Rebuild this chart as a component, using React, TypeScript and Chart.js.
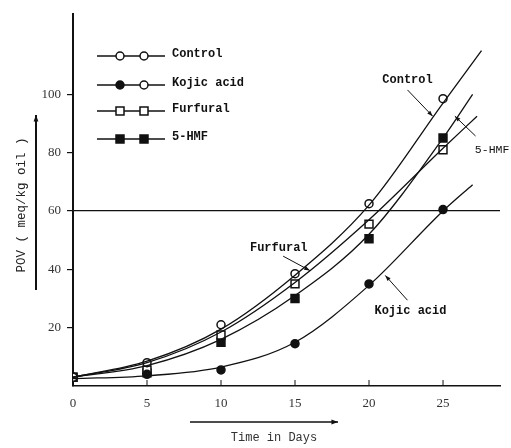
import React, { useEffect, useRef } from 'react';
import { Chart, registerables } from 'chart.js';

Chart.register(...registerables);

// Observation days
const days = [0, 5, 10, 15, 20, 25];
// Measured POV values (meq/kg oil)
const controlObs = [3, 8, 21, 38.5, 62.5, 98.5];
const kojicObs = [3, 4, 5.5, 14.5, 35, 60.5];
const furfuralObs = [3, 5.5, 17.5, 35, 55.5, 81];
const hmfObs = [3, 4.5, 15, 30, 50.5, 85];

// Hand-fitted curves
const controlCurveX = [0, 5, 10, 15, 20, 25, 27.6];
const controlCurveY = [3, 8.5, 19.5, 38, 62, 97, 115];
const kojicCurveX = [0, 5, 10, 15, 20, 25, 27.0];
const kojicCurveY = [2.5, 3.5, 6.5, 15, 34.5, 60, 69];
const furfuralCurveX = [0, 5, 10, 15, 20, 25, 27.3];
const furfuralCurveY = [3, 8, 18.5, 35.5, 57, 81.5, 92.5];
const hmfCurveX = [0, 5, 10, 15, 20, 25, 27.0];
const hmfCurveY = [3, 7, 16, 31, 52, 85, 100];

const xTicks = [0, 5, 10, 15, 20, 25];
const yTicks = [20, 40, 60, 80, 100];
const refLine = 60;

const legendLabels = ['Control', 'Kojic acid', 'Furfural', '5-HMF'];

const INK = '#111';
const MONO = 'Liberation Mono, DejaVu Sans Mono, monospace';
const SERIF = 'Liberation Serif, DejaVu Serif, serif';

function arrow(ctx: CanvasRenderingContext2D, x1: number, y1: number, x2: number, y2: number, head = 6, lw = 1) {
  ctx.save();
  ctx.strokeStyle = INK;
  ctx.fillStyle = INK;
  ctx.lineWidth = lw;
  ctx.beginPath();
  ctx.moveTo(x1, y1);
  ctx.lineTo(x2, y2);
  ctx.stroke();
  const a = Math.atan2(y2 - y1, x2 - x1);
  ctx.beginPath();
  ctx.moveTo(x2, y2);
  ctx.lineTo(x2 - head * Math.cos(a - 0.35), y2 - head * Math.sin(a - 0.35));
  ctx.lineTo(x2 - head * Math.cos(a + 0.35), y2 - head * Math.sin(a + 0.35));
  ctx.closePath();
  ctx.fill();
  ctx.restore();
}

function marker(ctx: CanvasRenderingContext2D, kind: string, filled: boolean, x: number, y: number) {
  ctx.save();
  ctx.strokeStyle = INK;
  ctx.lineWidth = 1.5;
  ctx.fillStyle = filled ? INK : '#fff';
  ctx.beginPath();
  if (kind === 'circle') ctx.arc(x, y, 4, 0, Math.PI * 2);
  else ctx.rect(x - 4, y - 4, 8, 8);
  ctx.fill();
  ctx.stroke();
  ctx.restore();
}

// Annotation labels placed in data coordinates
const annotations = [
  { text: 'Control', tx: 22.6, ty: 105, align: 'center', font: 'bold 12px ', from: [22.6, 101.5], to: [24.3, 92.5] },
  { text: '5-HMF', tx: 27.15, ty: 80.9, align: 'left', font: '11.5px ', from: [27.2, 85.7], to: [25.8, 92.5] },
  { text: 'Furfural', tx: 13.9, ty: 47.4, align: 'center', font: 'bold 12px ', from: [14.2, 44.5], to: [16.0, 39.6] },
  { text: 'Kojic acid', tx: 22.8, ty: 25.6, align: 'center', font: 'bold 12px ', from: [22.6, 29.4], to: [21.1, 37.9] },
];

const decorPlugin = {
  id: 'decor',
  afterDraw(chart: any) {
    const ctx: CanvasRenderingContext2D = chart.ctx;
    const xs = chart.scales.x;
    const ys = chart.scales.y;
    const area = chart.chartArea;
    ctx.save();
    // inward x tick marks
    ctx.strokeStyle = INK;
    ctx.lineWidth = 1;
    xTicks.forEach((v) => {
      if (v === 0) return;
      const px = xs.getPixelForValue(v);
      ctx.beginPath();
      ctx.moveTo(px, area.bottom);
      ctx.lineTo(px, area.bottom - 6);
      ctx.stroke();
    });

    // legend
    const rows = [56, 85, 111, 139];
    const styles: [string, boolean, string, boolean][] = [
      ['circle', false, 'circle', false],
      ['circle', true, 'circle', false],
      ['rect', false, 'rect', false],
      ['rect', true, 'rect', true],
    ];
    legendLabels.forEach((lab, i) => {
      const y = rows[i];
      ctx.strokeStyle = INK;
      ctx.lineWidth = 1.3;
      ctx.beginPath();
      ctx.moveTo(97, y);
      ctx.lineTo(165, y);
      ctx.stroke();
      marker(ctx, styles[i][0], styles[i][1], 120, y);
      marker(ctx, styles[i][2], styles[i][3], 144, y);
      ctx.fillStyle = INK;
      ctx.font = 'bold 12px ' + MONO;
      ctx.textAlign = 'left';
      ctx.textBaseline = 'middle';
      ctx.fillText(lab, 172, y - 2);
    });

    // annotations
    annotations.forEach((a) => {
      ctx.fillStyle = INK;
      ctx.font = a.font + MONO;
      ctx.textAlign = a.align as CanvasTextAlign;
      ctx.textBaseline = 'middle';
      ctx.fillText(a.text, xs.getPixelForValue(a.tx), ys.getPixelForValue(a.ty));
      arrow(
        ctx,
        xs.getPixelForValue(a.from[0]),
        ys.getPixelForValue(a.from[1]),
        xs.getPixelForValue(a.to[0]),
        ys.getPixelForValue(a.to[1]),
        6,
        1
      );
    });

    // y axis title + arrow
    ctx.save();
    ctx.translate(22, 205);
    ctx.rotate(-Math.PI / 2);
    ctx.fillStyle = '#222';
    ctx.font = '12.5px ' + MONO;
    ctx.textAlign = 'center';
    ctx.textBaseline = 'middle';
    ctx.fillText('POV ( meq/kg oil )', 0, 0);
    ctx.restore();
    arrow(ctx, 36, 290, 36, 115, 7, 2);

    // x axis title + arrow
    arrow(ctx, 190, 422, 338, 422, 7, 1.5);
    ctx.fillStyle = '#333';
    ctx.font = '12px ' + MONO;
    ctx.textAlign = 'center';
    ctx.textBaseline = 'middle';
    ctx.fillText('Time in Days', 274, 438);
    ctx.restore();
  },
};

export default function App() {
  const ref = useRef<HTMLCanvasElement>(null);
  useEffect(() => {
    document.body.style.margin = '0';
    const canvas = ref.current!;
    const pts = (xsArr: number[], ysArr: number[]) => xsArr.map((x, i) => ({ x, y: ysArr[i] }));
    const curve = (label: string, xsArr: number[], ysArr: number[]) => ({
      label,
      data: pts(xsArr, ysArr),
      showLine: true,
      pointRadius: 0,
      borderColor: INK,
      borderWidth: 1.3,
      cubicInterpolationMode: 'monotone',
      fill: false,
    });
    const obs = (label: string, ysArr: number[], style: string, filled: boolean) => ({
      label,
      data: pts(days, ysArr),
      showLine: false,
      pointStyle: style,
      pointRadius: style === 'rect' ? 5.6 : 4,
      pointBackgroundColor: filled ? INK : '#fff',
      pointBorderColor: INK,
      pointBorderWidth: 1.5,
    });
    const chart = new Chart(canvas, {
      type: 'scatter',
      data: {
        datasets: [
          curve('Control curve', controlCurveX, controlCurveY),
          curve('Kojic acid curve', kojicCurveX, kojicCurveY),
          curve('Furfural curve', furfuralCurveX, furfuralCurveY),
          curve('5-HMF curve', hmfCurveX, hmfCurveY),
          obs('Control', controlObs, 'circle', false),
          obs('Kojic acid', kojicObs, 'circle', true),
          obs('Furfural', furfuralObs, 'rect', false),
          obs('5-HMF', hmfObs, 'rect', true),
        ] as any,
      },
      options: {
        responsive: false,
        animation: false,
        devicePixelRatio: 1,
        layout: { padding: { top: 12, right: 11, left: 0, bottom: 0 } },
        plugins: { legend: { display: false }, tooltip: { enabled: false } },
        scales: {
          x: {
            type: 'linear',
            min: 0,
            max: 28.85,
            afterFit: (s: any) => {
              s.height = 62;
            },
            grid: { display: false, drawTicks: false },
            border: { display: true, color: INK, width: 1.5 },
            ticks: {
              stepSize: 5,
              autoSkip: false,
              maxRotation: 0,
              padding: 10,
              color: '#333',
              font: { family: SERIF, size: 13 },
              callback: (v: any) => (xTicks.includes(Number(v)) ? String(v) : ''),
            },
          },
          y: {
            type: 'linear',
            min: 0,
            max: 127.6,
            afterFit: (s: any) => {
              s.width = 73;
            },
            grid: {
              display: true,
              drawOnChartArea: true,
              drawTicks: true,
              tickLength: 6,
              lineWidth: 1.2,
              color: (c: any) => (c.tick && c.tick.value === refLine ? INK : 'rgba(0,0,0,0)'),
              tickColor: (c: any) => (c.tick && yTicks.includes(c.tick.value) ? INK : 'rgba(0,0,0,0)'),
            },
            border: { display: true, color: INK, width: 2 },
            ticks: {
              stepSize: 20,
              padding: 6,
              color: '#333',
              font: { family: SERIF, size: 13 },
              callback: (v: any) => (yTicks.includes(Number(v)) ? String(v) : ''),
            },
          },
        },
      } as any,
      plugins: [decorPlugin],
    });
    return () => chart.destroy();
  }, []);
  return (
    <div style={{ position: 'absolute', left: 0, top: 0, width: 511, height: 448, background: '#fff' }}>
      <canvas ref={ref} width={511} height={448} />
    </div>
  );
}
